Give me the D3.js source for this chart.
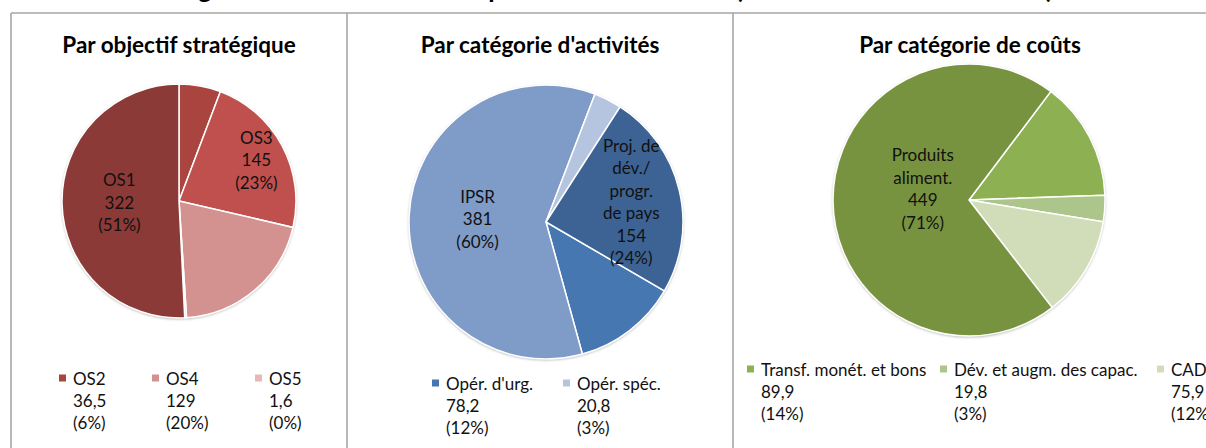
<!DOCTYPE html>
<html>
<head>
<meta charset="utf-8">
<script src="https://cdn.jsdelivr.net/npm/d3@7"></script>
<style>
  body { margin:0; background:#fff; }
  svg { display:block; font-family:Lato, 'Open Sans', sans-serif; }
</style>
</head>
<body>
<div id="chart"></div>
<script>

// Data
var mainTitle = 'Figure 3 : Besoins de 2015 par secteur d\'activité (en millions de dollars É.-U.)';

var osTitle = 'Par objectif stratégique';
var osNames = ['OS2','OS3','OS4','OS5','OS1'];
var osValues = [36.5,145,129,1.6,322];
var osColors = ['#a9443f','#c0504d','#d39290','#e6b9b8','#8c3a37'];

var actTitle = 'Par catégorie d\'activités';
var actNames = ['Opér. d\'urg.','IPSR','Opér. spéc.','Proj. de\ndév./\nprogr.\nde pays'];
var actValues = [78.2,381,20.8,154];
var actColors = ['#4677b0','#7f9bc7','#b5c4df','#3c6394'];

var costTitle = 'Par catégorie de coûts';
var costNames = ['Transf. monét. et bons','Dév. et augm. des capac.','CAD','Produits\naliment.'];
var costValues = [89.9,19.8,75.9,449];
var costColors = ['#8db052','#acc58a','#d1ddb9','#78933f'];

var W = 1206, H = 448;

var panels = [
  {title:osTitle, names:osNames, values:osValues, colors:osColors, tx:179, cx:179, cy:201, r:117, start:0,
   inside:{'OS1':[0.51,0], 'OS3':[0.75,0]}, legendY:378, legendX:[59,152,255]},
  {title:actTitle, names:actNames, values:actValues, colors:actColors, tx:540, cx:546, cy:222, r:137, start:120.2,
   inside:{'IPSR':[0.5,0], 'Proj. de\ndév./\nprogr.\nde pays':[0.64,0]}, legendY:383, legendX:[432,563]},
  {title:costTitle, names:costNames, values:costValues, colors:costColors, tx:970, cx:969, cy:200, r:136, start:37,
   inside:{'Produits\naliment.':[0.34,-12]}, legendY:369, legendX:[747,940,1157]}
];

var svg = d3.select('#chart').append('svg').attr('width',W).attr('height',H);

var defs = svg.append('defs');
var f = defs.append('filter').attr('id','shadow').attr('x','-10%').attr('y','-10%').attr('width','120%').attr('height','120%');
f.append('feDropShadow').attr('dx',0).attr('dy',1).attr('stdDeviation',1.6)
  .attr('flood-color','#000').attr('flood-opacity',0.35);

// Main title (cut off by the top of the picture)
svg.append('text').attr('x',615).attr('y',-2).attr('text-anchor','middle')
  .style('font-weight','bold').style('font-size','26px').style('fill','#000').text(mainTitle);

// Panel frames
var frame = svg.append('g').style('stroke','#a6a6a6').style('stroke-width',1.6).style('fill','none');
frame.append('line').attr('x1',11).attr('x2',W+2).attr('y1',13).attr('y2',13);
[11,347,733].forEach(function(x){
  frame.append('line').attr('x1',x).attr('x2',x).attr('y1',13).attr('y2',H+2);
});

var fmtVal = function(v){ return String(v).replace('.',','); };

panels.forEach(function(p){
  var total = d3.sum(p.values);
  var pie = d3.pie().sort(null).value(function(d){ return d; })
    .startAngle(p.start*Math.PI/180).endAngle(p.start*Math.PI/180 + 2*Math.PI);
  var arc = d3.arc().innerRadius(0).outerRadius(p.r);
  var arcs = pie(p.values);

  var g = svg.append('g');

  g.append('text').attr('x',p.tx).attr('y',53).attr('text-anchor','middle')
    .style('font-weight','bold').style('font-size','22.5px').style('fill','#000').text(p.title);

  var pieG = g.append('g').attr('transform','translate('+p.cx+','+p.cy+')');
  pieG.append('circle').attr('r',p.r).style('fill','#fff').attr('filter','url(#shadow)');
  pieG.selectAll('path.slice').data(arcs).enter().append('path')
    .attr('class','slice')
    .attr('d',arc)
    .style('fill',function(d,i){ return p.colors[i]; })
    .style('stroke','#fff').style('stroke-width',1.5);

  var legendIdx = 0;
  arcs.forEach(function(d,i){
    var name = p.names[i];
    var lines = name.split('\n').concat([fmtVal(p.values[i]), '('+Math.round(p.values[i]/total*100)+'%)']);
    if(p.inside[name]){
      var mid = (d.startAngle + d.endAngle)/2;
      var pt = d3.pointRadial(mid, p.r*p.inside[name][0]);
      var lx = p.cx + pt[0], ly = p.cy + pt[1] + p.inside[name][1];
      var t = g.append('text').attr('text-anchor','middle').style('font-size','17px').style('fill','#111');
      lines.forEach(function(s,k){
        t.append('tspan').attr('x',lx).attr('y',ly + (k-(lines.length-1)/2)*22.5)
          .attr('dominant-baseline','central').text(s);
      });
    } else {
      var x = p.legendX[legendIdx++];
      g.append('rect').attr('x',x).attr('y',p.legendY-3.5).attr('width',7).attr('height',7)
        .style('fill',p.colors[i]);
      var lt = g.append('text').style('font-size','17px').style('fill','#111');
      lines.forEach(function(s,k){
        lt.append('tspan').attr('x',x+14).attr('y',p.legendY + k*22)
          .attr('dominant-baseline','central').text(s);
      });
    }
  });
});

</script>
</body>
</html>
